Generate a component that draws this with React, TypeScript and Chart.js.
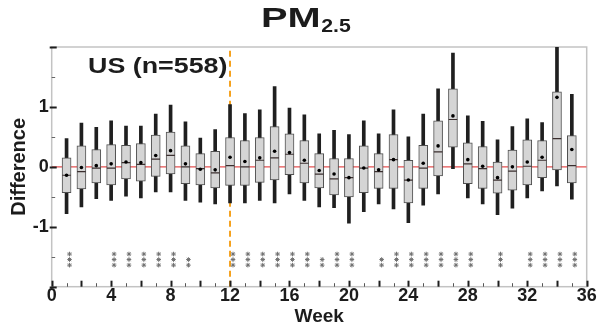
import React, { useEffect, useRef } from "react";
import { Chart, registerables } from "chart.js";

Chart.register(...registerables);

// ---- data ----
const weeks = [
  1, 2, 3, 4, 5, 6, 7, 8, 9, 10, 11, 12, 13, 14, 15, 16, 17, 18,
  19, 20, 21, 22, 23, 24, 25, 26, 27, 28, 29, 30, 31, 32, 33, 34, 35,
];
const whiskerLow = [
  -0.78, -0.67, -0.53, -0.56, -0.49, -0.52, -0.42, -0.42, -0.56, -0.59, -0.62, -0.6,
  -0.6, -0.56, -0.6, -0.45, -0.56, -0.67, -0.68, -0.94, -0.75, -0.62, -0.7, -0.93,
  -0.64, -0.45, -0.03, -0.52, -0.62, -0.8, -0.69, -0.52, -0.4, -0.32, -0.54,
];
const q1 = [
  -0.43, -0.37, -0.27, -0.3, -0.2, -0.24, -0.16, -0.12, -0.28, -0.3, -0.35, -0.31,
  -0.31, -0.26, -0.22, -0.13, -0.27, -0.35, -0.47, -0.5, -0.43, -0.36, -0.36, -0.6,
  -0.36, -0.15, 0.33, -0.28, -0.36, -0.44, -0.39, -0.3, -0.18, -0.05, -0.27,
];
const medians = [
  -0.14, -0.08, -0.02, -0.02, 0.07, 0.04, 0.13, 0.19, 0.0, -0.03, -0.1, 0.02,
  0.0, 0.11, 0.15, 0.21, 0.06, -0.12, -0.2, -0.18, -0.02, -0.08, 0.12, -0.22,
  -0.02, 0.25, 0.79, 0.05, -0.03, -0.22, -0.07, 0.01, 0.11, 0.47, 0.02,
];
const means = [
  -0.14, -0.01, 0.02, 0.05, 0.08, 0.07, 0.19, 0.27, 0.05, -0.04, -0.05, 0.16,
  0.09, 0.15, 0.26, 0.24, 0.11, -0.06, -0.12, -0.18, -0.02, -0.05, 0.12, -0.22,
  0.06, 0.35, 0.85, 0.12, 0.01, -0.18, 0.0, 0.08, 0.16, 1.16, 0.29,
];
const q3 = [
  0.15, 0.35, 0.29, 0.37, 0.36, 0.39, 0.53, 0.58, 0.35, 0.22, 0.26, 0.49,
  0.44, 0.49, 0.67, 0.55, 0.44, 0.22, 0.14, 0.14, 0.35, 0.22, 0.54, 0.11,
  0.36, 0.77, 1.3, 0.4, 0.34, 0.08, 0.28, 0.45, 0.44, 1.25, 0.52,
];
const whiskerHigh = [
  0.47, 0.73, 0.66, 0.77, 0.68, 0.68, 0.88, 1.03, 0.75, 0.48, 0.62, 1.04,
  0.89, 0.95, 1.34, 0.98, 0.87, 0.55, 0.61, 0.54, 0.77, 0.55, 0.95, 0.5,
  0.88, 1.3, 1.9, 0.85, 0.76, 0.45, 0.67, 0.8, 0.74, 2.0, 1.21,
];
// number of significance asterisks under each week
const starCounts = [
  3, 0, 0, 3, 3, 3, 3, 3, 2, 0, 0, 3, 3, 3, 3, 3, 3, 2,
  3, 3, 0, 2, 3, 3, 3, 3, 3, 3, 0, 3, 0, 3, 3, 3, 3,
];
const interventionWeek = 12;
const titleMain = "PM";
const titleSub = "2.5";
const panelLabel = "US (n=558)";
const xTitle = "Week";
const yTitle = "Difference";

const FONT = '"Liberation Sans", Arial, Helvetica, sans-serif';
const STAR_LEVELS = [-1.455, -1.547, -1.64];
const STAR_SHIFT = 0.2;

const starPoints: { x: number; y: number }[] = [];
weeks.forEach((w, i) => {
  const n = starCounts[i];
  for (let k = 3 - n; k < 3; k++) starPoints.push({ x: w + STAR_SHIFT, y: STAR_LEVELS[k] });
});

const decorPlugin = {
  id: "decor",
  beforeDatasetsDraw(chart: any) {
    const { ctx, chartArea: a } = chart;
    ctx.save();
    ctx.strokeStyle = "#c3c3c3";
    ctx.lineWidth = 1.5;
    ctx.strokeRect(a.left, a.top, a.right - a.left, a.bottom - a.top);
    ctx.restore();
  },
  afterDraw(chart: any) {
    const { ctx, chartArea: a, scales } = chart;
    const x = scales.x;
    const y = scales.y;
    ctx.save();
    // x tick marks (inward)
    for (let v = 0; v <= 36; v++) {
      const px = Math.round(x.getPixelForValue(v)) + 0.5;
      const major = v % 2 === 0;
      ctx.strokeStyle = major ? "#1e1e1e" : "#555";
      ctx.lineWidth = major ? 2 : 1;
      ctx.beginPath();
      ctx.moveTo(px, a.bottom);
      ctx.lineTo(px, a.bottom - (major ? 6 : 3.5));
      ctx.stroke();
    }
    // y tick marks (inward)
    for (let v = -2; v <= 2.001; v += 0.5) {
      const py = Math.round(y.getPixelForValue(v)) + 0.5;
      const major = Math.abs(v - Math.round(v)) < 1e-6;
      ctx.strokeStyle = major ? "#1e1e1e" : "#666";
      ctx.lineWidth = major ? 2 : 1;
      ctx.beginPath();
      ctx.moveTo(a.left - (major ? 2 : 0), py);
      ctx.lineTo(a.left + (major ? 5 : 3.5), py);
      ctx.stroke();
    }
    // title PM_2.5
    ctx.fillStyle = "#1c1c1c";
    ctx.textBaseline = "alphabetic";
    ctx.textAlign = "left";
    ctx.font = `bold 28px ${FONT}`;
    const sx = 1.42;
    const w = ctx.measureText(titleMain).width * sx;
    ctx.save();
    ctx.translate(261, 27);
    ctx.scale(sx, 1);
    ctx.fillText(titleMain, 0, 0);
    ctx.restore();
    ctx.font = `bold 19px ${FONT}`;
    ctx.save();
    ctx.translate(261 + w + 0.5, 32);
    ctx.scale(1.12, 1);
    ctx.fillText(titleSub, 0, 0);
    ctx.restore();
    // panel label
    ctx.font = `bold 22px ${FONT}`;
    ctx.save();
    ctx.translate(88, 73.3);
    ctx.scale(1.22, 1);
    ctx.fillText(panelLabel, 0, 0);
    ctx.restore();
    ctx.restore();
  },
};

export default function App() {
  const ref = useRef<HTMLCanvasElement>(null);
  useEffect(() => {
    const canvas = ref.current;
    if (!canvas) return;
    const chart = new Chart(canvas, {
      type: "bar",
      data: {
        datasets: [
          {
            type: "line",
            label: "zero",
            data: [
              { x: 0, y: 0 },
              { x: 36, y: 0 },
            ],
            borderColor: "#e55050",
            borderWidth: 1.2,
            pointRadius: 0,
            order: 10,
          } as any,
          {
            type: "line",
            label: "intervention",
            data: [
              { x: interventionWeek, y: -2 },
              { x: interventionWeek, y: 2 },
            ],
            borderColor: "#f5a11c",
            borderWidth: 2,
            borderDash: [6, 4],
            pointRadius: 0,
            order: 9,
          } as any,
          {
            type: "bar",
            label: "whisker",
            data: weeks.map((w, i) => ({ x: w, y: [whiskerLow[i], whiskerHigh[i]] })),
            backgroundColor: "#1f1f1f",
            borderWidth: 0,
            barThickness: 3,
            grouped: false,
            order: 6,
          } as any,
          {
            type: "bar",
            label: "box",
            data: weeks.map((w, i) => ({ x: w, y: [q1[i], q3[i]] })),
            backgroundColor: "#d5d5d5",
            borderColor: "#505050",
            borderWidth: 1,
            borderSkipped: false,
            barThickness: 9,
            grouped: false,
            order: 5,
          } as any,
          {
            type: "scatter",
            label: "median",
            data: weeks.map((w, i) => ({ x: w, y: medians[i] })),
            pointStyle: "line",
            pointRadius: 4.3,
            borderColor: "#3a2e2e",
            borderWidth: 1.2,
            order: 3,
          } as any,
          {
            type: "scatter",
            label: "mean",
            data: weeks.map((w, i) => ({ x: w, y: means[i] })),
            pointStyle: "circle",
            pointRadius: 1.8,
            backgroundColor: "#000",
            borderWidth: 0,
            order: 2,
          } as any,
          {
            type: "scatter",
            label: "stars",
            data: starPoints,
            pointStyle: "star",
            pointRadius: 2.3,
            borderColor: "#707070",
            borderWidth: 1,
            order: 1,
          } as any,
        ],
      },
      options: {
        responsive: false,
        animation: false,
        events: [],
        layout: { padding: { top: 47, right: 10.3, left: 0, bottom: 0 } },
        plugins: {
          legend: { display: false },
          tooltip: { enabled: false },
          title: { display: false },
        },
        scales: {
          x: {
            type: "linear",
            min: 0,
            max: 36,
            offset: false,
            grid: { display: false, drawTicks: false },
            border: { display: false },
            ticks: {
              stepSize: 4,
              padding: -1,
              color: "#1c1c1c",
              font: { family: FONT, size: 18, weight: "bold" },
              maxRotation: 0,
            },
            title: {
              display: true,
              text: xTitle,
              color: "#1c1c1c",
              font: { family: FONT, size: 19, weight: "bold" },
              padding: { top: 0, bottom: 3 },
            },
            afterFit(scale: any) {
              scale.height = 44.3;
            },
          },
          y: {
            type: "linear",
            min: -2,
            max: 2,
            grid: { display: false, drawTicks: false },
            border: { display: false },
            ticks: {
              stepSize: 1,
              padding: 3,
              color: "#1c1c1c",
              font: { family: FONT, size: 18, weight: "bold" },
              callback: (v: any) => (Math.abs(Number(v)) >= 2 ? "" : String(v)),
            },
            title: {
              display: true,
              text: yTitle,
              color: "#1c1c1c",
              font: { family: FONT, size: 20, weight: "bold" },
              padding: { top: 7, bottom: 0 },
            },
            afterFit(scale: any) {
              scale.width = 51.7;
            },
          },
        },
      } as any,
      plugins: [decorPlugin],
    });
    return () => chart.destroy();
  }, []);
  return (
    <div style={{ position: "fixed", left: 0, top: 0, width: 597, height: 331, background: "#fff" }}>
      <canvas ref={ref} width={597} height={331} style={{ display: "block", width: 597, height: 331 }} />
    </div>
  );
}
